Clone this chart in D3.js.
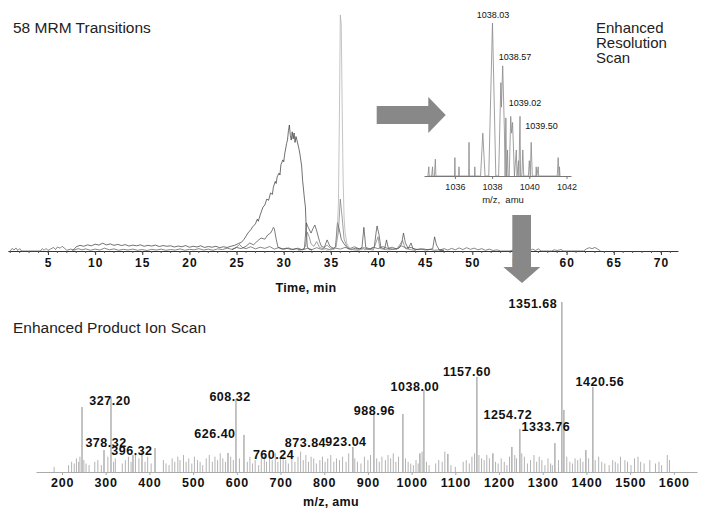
<!DOCTYPE html>
<html>
<head>
<meta charset="utf-8">
<script src="https://cdn.jsdelivr.net/npm/d3@7"></script>
<style>
  body { margin: 0; background: #fff; }
  svg { display: block; font-family: "Liberation Sans", Arial, Helvetica, sans-serif; }
</style>
</head>
<body>
<svg id="chart" width="720" height="516"></svg>
<script>
// ---------- data: MRM chromatogram (time min, relative intensity) ----------
const timeTicks = [5, 10, 15, 20, 25, 30, 35, 40, 45, 50, 55, 60, 65, 70];

// broad trace (starts as a wavy baseline, big hump around 31 min)
const chromBroad = [[7.6,0],[8.0,1.8],[8.4,2.4],[8.8,2.0],[9.2,2.6],[9.6,2.2],[10.0,2.9],[10.4,2.5],[10.8,3.3],[11.2,2.6],[11.6,3.0],[12.0,2.4],[12.4,2.8],[12.8,2.3],[13.2,2.7],[13.6,2.1],[14.0,2.5],[14.4,2.2],[14.8,2.6],[15.2,2.0],[15.6,2.4],[16.0,2.1],[16.4,2.5],[16.8,1.9],[17.2,2.3],[17.6,2.0],[18.0,2.2],[18.4,1.7],[18.8,2.1],[19.2,1.8],[19.6,2.3],[20.0,1.6],[20.4,2.0],[20.8,1.7],[21.2,2.2],[21.6,1.5],[22.0,1.9],[22.4,1.6],[22.8,2.0],[23.2,1.4],[23.6,1.8],[24.0,1.5],[24.4,2.0],[24.8,2.4],[25.2,3.2],[25.5,3.6],[25.8,5.0],[26.2,7.6],[26.5,9.0],[26.7,10.2],[27.0,11.5],[27.2,13.5],[27.3,12.6],[27.5,15.2],[27.8,18.6],[28.0,19.5],[28.2,22.0],[28.4,21.5],[28.6,24.6],[28.8,24.0],[28.9,27.0],[29.1,29.5],[29.2,28.6],[29.3,31.4],[29.5,33.0],[29.6,32.2],[29.7,36.5],[29.9,38.6],[30.0,37.8],[30.1,41.0],[30.3,45.5],[30.4,47.0],[30.5,51.0],[30.6,53.4],[30.7,49.0],[30.8,47.0],[30.9,50.5],[31.0,47.5],[31.1,50.0],[31.2,46.0],[31.3,48.5],[31.4,47.0],[31.6,43.5],[31.7,41.5],[31.9,36.0],[32.0,30.0],[32.2,22.0],[32.3,18.6],[32.4,8.0],[32.5,1.7],[32.7,0.8],[33.0,0.3]];

// trace with many small peaks 29-46 min
const chromPeaks = [[24.5,0.5],[25.0,1.5],[25.5,1.0],[26.0,2.0],[26.4,3.4],[26.8,2.6],[27.2,4.2],[27.6,5.5],[28.0,5.0],[28.3,6.8],[28.6,7.6],[28.8,9.0],[28.9,10.0],[29.0,9.5],[29.2,5.0],[29.4,1.5],[29.8,0.8],[30.3,1.2],[30.8,0.6],[31.3,1.0],[31.8,0.5],[32.2,1.0],[32.4,11.9],[32.6,10.0],[32.9,7.6],[33.1,9.5],[33.3,11.0],[33.5,8.5],[33.8,4.0],[34.0,2.0],[34.3,1.5],[34.6,4.7],[34.9,2.0],[35.3,1.0],[35.5,2.0],[35.7,12.0],[35.9,9.0],[36.1,5.0],[36.4,3.0],[36.8,1.0],[37.2,0.6],[37.6,1.2],[38.0,0.8],[38.3,1.5],[38.5,10.0],[38.7,1.5],[39.2,0.8],[39.6,1.5],[39.8,8.0],[39.9,10.6],[40.1,7.0],[40.3,1.5],[40.7,0.8],[40.9,4.7],[41.1,1.0],[41.6,0.8],[42.2,1.2],[42.5,3.0],[42.7,7.6],[42.9,3.5],[43.2,1.0],[43.5,3.4],[43.7,1.0],[44.2,0.6],[44.8,0.9],[45.3,0.5],[45.8,1.0],[46.0,6.0],[46.2,2.5],[46.5,0.5],[47.0,0.3]];

// tall narrow peak at 36 min
const chromTall = [[34.5,0.3],[35.0,0.6],[35.4,0.8],[35.6,2.0],[35.8,20.0],[35.9,55.0],[36.0,100],[36.1,96.0],[36.2,60.0],[36.3,30.0],[36.4,14.0],[36.5,8.0],[36.7,3.0],[37.0,1.2],[37.5,0.5],[38.0,0.3]];

// medium trace, 36 min peak
const chromMid = [[31.5,0.3],[32.0,0.6],[32.3,2.0],[32.5,8.0],[32.7,6.0],[32.9,3.0],[33.2,2.0],[33.5,4.0],[33.8,1.5],[34.2,1.0],[34.6,2.5],[35.0,1.0],[35.5,1.5],[35.8,8.0],[36.0,22.0],[36.2,14.0],[36.4,5.0],[36.7,2.0],[37.0,1.0],[37.5,0.5],[38.0,0.4],[38.5,1.0],[38.6,0.5],[39.0,0.8],[39.5,0.4],[40.0,6.0],[40.2,1.0],[41.0,0.5],[42.0,0.8],[42.6,4.5],[42.9,1.0],[43.6,0.5],[44.0,0.2]];

// baseline noise
const chromNoise = [[1.0,0],[1.2,1.1],[1.4,0.4],[1.6,1.3],[1.8,0.2],[2.0,1.0],[2.2,0],[2.6,0],[4.2,0],[4.4,1.0],[4.6,0.3],[4.8,1.1],[5.0,0.2],[5.3,0.9],[5.6,1.5],[5.8,0.6],[6.0,1.7],[6.3,1.2],[6.5,2.0],[6.8,1.0],[7.0,0.3],[7.4,0.8],[7.8,0.4],[8.2,1.0],[8.6,0.5],[9.0,0.9],[9.5,0.3],[10.0,0.8],[10.5,0.4],[11.0,1.2],[11.5,0.5],[12.0,0.9],[12.5,0.3],[13.0,0.7],[13.5,0.4],[14.0,0.8],[14.5,0.3],[15.0,0.6],[15.5,0.2],[16.0,0.7],[16.5,0.4],[17.0,0.8],[17.5,0.3],[18.0,0.6],[18.5,0.4],[19.0,0.9],[19.5,0.3],[20.0,0.7],[20.5,0.5],[21.0,1.0],[21.5,0.4],[22.0,0.8],[22.5,0.3],[23.0,0.9],[23.5,0.6],[24.0,1.2],[24.5,0.7],[25.0,1.6],[25.3,2.8],[25.6,1.5],[26.0,1.0],[26.5,1.8],[27.0,0.9],[27.5,1.6],[28.0,1.1],[28.5,1.9],[29.0,0.8],[29.5,1.5],[30.0,0.7],[30.5,1.3],[31.0,0.6],[31.5,1.2],[32.0,0.5],[32.5,1.1],[33.0,0.6],[33.5,1.4],[34.0,0.7],[34.5,1.0],[35.0,0.5],[35.5,1.2],[36.0,0.8],[36.5,1.5],[37.0,1.0],[37.5,1.8],[38.0,0.9],[38.5,1.4],[39.0,0.7],[39.5,1.6],[40.0,1.0],[40.5,1.9],[41.0,1.1],[41.5,1.6],[42.0,0.8],[42.5,2.2],[43.0,1.2],[43.5,1.5],[44.0,0.6],[44.5,0.9],[45.0,0.4],[45.5,0.7],[46.0,0.3],[46.5,0.5],[47.0,0]];

const chromLate = [[46.5,0.3],[47.0,1.0],[47.4,0.4],[47.8,1.1],[48.2,0.5],[48.6,1.3],[49.0,0.6],[49.4,1.4],[49.8,0.7],[50.2,1.2],[50.6,0.5],[51.0,1.0],[51.4,0.3],[51.8,0.8],[52.2,0.2],[52.6,0.5],[53.0,0],[54.0,0],[54.4,0.6],[54.8,0],[56.0,0],[56.4,0.8],[56.7,0.2],[57.0,0.9],[57.3,0],[58.4,0],[58.7,0.5],[59.0,0.2],[59.4,0.6],[59.7,0],[61.8,0],[62.1,0.9],[62.4,1.4],[62.7,1.0],[63.0,1.5],[63.3,0.8],[63.6,0]];

// ---------- data: enhanced resolution inset (m/z, relative intensity) ----------
const erTicks = [1036, 1038, 1040, 1042];
const erProfile = [[1034.55,0],[1034.6,6],[1034.62,0],[1034.75,0],[1034.8,6],[1034.82,0],[1034.9,0],[1034.95,11],[1034.98,0],[1035.98,0],[1036.0,12],[1036.02,0],[1036.2,0],[1036.22,6],[1036.24,0],[1036.74,0],[1036.76,22],[1036.78,0],[1037.05,0],[1037.07,6],[1037.09,0],[1037.38,0],[1037.5,28],[1037.62,0],[1037.82,0],[1038.02,100],[1038.2,0],[1038.35,0],[1038.47,61],[1038.5,45],[1038.57,72],[1038.66,30],[1038.7,0],[1038.74,38],[1038.78,0],[1038.83,17],[1038.86,0],[1038.92,0],[1039.0,39],[1039.05,28],[1039.1,35],[1039.2,0],[1039.3,17],[1039.34,0],[1039.42,10],[1039.44,0],[1039.5,39],[1039.53,0],[1039.6,0],[1039.65,17],[1039.7,0],[1039.95,0],[1040.0,10],[1040.05,0],[1040.1,22],[1040.16,0],[1040.35,0],[1040.37,6],[1040.4,0],[1040.48,6],[1040.5,0],[1041.5,0],[1041.55,12],[1041.6,0],[1041.62,6],[1041.65,0]];
const erLabels = [["1038.03",1038.05,105.2],["1038.57",1039.23,77.8],["1039.02",1039.77,47.7],["1039.50",1040.65,32.7]];

// ---------- data: enhanced product ion scan (m/z, relative intensity) ----------
const mzTicks = [200, 300, 400, 500, 600, 700, 800, 900, 1000, 1100, 1200, 1300, 1400, 1500, 1600];
const epiMajor = [[245.8,38.2],[312.1,44.1],[296.1,12.9],[362.4,10],[383,12.9],[412.8,14.1],[579.8,11.2],[598.1,42.9],[616.4,21.8],[865.7,14.7],[913.8,34.7],[980.1,34.1],[1028.2,48.2],[1019,11],[1083,10.6],[1149.4,55.9],[1186,11],[1229.5,14.7],[1247.8,25.3],[1327.9,17],[1343.9,100],[1348.5,36.5],[1398.8,12.9],[1414.8,50]];
const epiMinor = [[182,3],[215,4],[222,6],[228,5],[233,8],[238,6],[241,9],[250,7],[255,5],[262,4],[275,6],[282,7],[290,4],[305,9],[318,6],[322,8],[338,5],[345,7],[352,9],[358,6],[368,11],[376,8],[390,6],[396,9],[404,5],[432,7],[438,5],[445,4],[452,8],[458,6],[465,9],[470,7],[478,10],[484,6],[490,8],[497,5],[503,9],[510,7],[516,6],[522,4],[530,8],[537,10],[544,6],[550,9],[556,7],[562,11],[568,8],[574,6],[586,9],[592,7],[606,8],[624,6],[630,9],[636,5],[642,7],[650,4],[656,8],[663,10],[668,6],[675,9],[681,7],[688,11],[694,6],[700,8],[706,10],[712,7],[718,5],[726,8],[733,6],[740,9],[746,12],[752,7],[758,10],[764,6],[770,9],[776,8],[782,5],[790,7],[796,9],[802,6],[808,8],[815,10],[822,6],[828,8],[835,7],[842,9],[850,6],[856,11],[870,8],[876,6],[884,5],[892,9],[900,7],[906,10],[920,8],[926,6],[932,9],[940,7],[946,10],[952,8],[958,11],[964,6],[970,9],[986,8],[992,6],[998,5],[1004,4],[1010,7],[1015,5],[1024,12],[1034,6],[1040,4],[1055,5],[1062,7],[1070,6],[1076,12],[1090,4],[1100,3],[1118,6],[1125,7],[1132,5],[1138,9],[1144,11],[1154,10],[1160,8],[1166,7],[1172,10],[1178,8],[1192,6],[1198,5],[1205,8],[1212,6],[1218,4],[1224,9],[1236,10],[1240,8],[1252,11],[1258,9],[1265,5],[1272,7],[1280,10],[1286,6],[1292,9],[1298,7],[1305,4],[1312,8],[1318,5],[1322,4],[1336,7],[1355,9],[1362,6],[1368,5],[1374,8],[1380,7],[1386,8],[1392,6],[1405,8],[1420,7],[1428,9],[1435,6],[1442,5],[1452,4],[1460,7],[1466,6],[1472,5],[1478,9],[1488,7],[1494,6],[1502,4],[1510,8],[1518,9],[1524,6],[1532,5],[1545,7],[1558,5],[1566,6],[1572,4],[1585,10],[1590,7]];
const epiLabels = [["327.20",309.8,41.8],["378.32",300.7,17.1],["396.32",360.1,12.4],["608.32",584.4,44.1],["626.40",550,22.4],["760.24",684,10],["873.84",757,17.1],["923.04",849.7,17.6],["988.96",914.9,35.9],["1038.00",1007.6,50],["1157.60",1126.5,58.8],["1254.72",1220.4,33.5],["1333.76",1307.3,26.5],["1351.68",1277.5,98.8],["1420.56",1430.8,52.9]];

const FONT = '"Liberation Sans", Arial, Helvetica, sans-serif';
const svg = d3.select("#chart");
svg.append("rect").attr("width", 720).attr("height", 516).attr("fill", "#fff");

// ================= top chromatogram =================
const xT = d3.scaleLinear().domain([0.75, 71.8]).range([7.9, 677.9]);
const yT = d3.scaleLinear().domain([0, 100]).range([251, 15]);

const gTop = svg.append("g").attr("transform", "translate(0,251)");
gTop.call(d3.axisBottom(xT).tickValues(timeTicks).tickFormat(d3.format("d")).tickSize(4).tickSizeOuter(0));
gTop.attr("font-family", FONT);
gTop.select(".domain").attr("stroke", "#333");
gTop.selectAll(".tick line").attr("stroke", "#333");
gTop.selectAll(".tick text")
  .attr("y", 16).attr("dy", 0)
  .attr("font-size", 12).attr("font-weight", "bold")
  .attr("letter-spacing", 1).attr("fill", "#111");
gTop.selectAll(".minor").data(d3.range(1, 72)).join("line")
  .attr("class", "minor")
  .attr("x1", d => xT(d)).attr("x2", d => xT(d))
  .attr("y1", 0).attr("y2", 2).attr("stroke", "#555");

const lineT = d3.line().x(d => xT(d[0])).y(d => yT(d[1]));
const traceList = [chromNoise, chromLate, chromBroad, chromPeaks, chromMid, chromTall];
const traceColors = ["#555", "#555", "#333", "#444", "#777", "#aaa"];
svg.append("g").selectAll("path").data(traceList).join("path")
  .attr("d", lineT)
  .attr("fill", "none")
  .attr("stroke", (d, i) => traceColors[i])
  .attr("stroke-width", 0.7);

svg.append("text").attr("x", 306).attr("y", 292)
  .attr("text-anchor", "middle").attr("font-size", 12.5).attr("font-weight", "bold")
  .attr("letter-spacing", 0.3).attr("fill", "#111").text("Time, min");

svg.append("text").attr("x", 13).attr("y", 33)
  .attr("font-size", 15.5).attr("fill", "#222").text("58 MRM Transitions");

// ================= enhanced resolution inset =================
const xE = d3.scaleLinear().domain([1034.34, 1042.24]).range([424, 571]);
const yE = d3.scaleLinear().domain([0, 100]).range([176, 23]);

svg.append("path").datum(erProfile)
  .attr("d", d3.line().x(d => xE(d[0])).y(d => yE(d[1])))
  .attr("fill", "none").attr("stroke", "#888").attr("stroke-width", 0.8);

const gE = svg.append("g").attr("transform", "translate(0,176)");
gE.call(d3.axisBottom(xE).tickValues(erTicks).tickFormat(d3.format("d")).tickSize(3).tickSizeOuter(0));
gE.attr("font-family", FONT);
gE.select(".domain").attr("stroke", "#777");
gE.selectAll(".tick line").attr("stroke", "#777");
gE.selectAll(".tick text").attr("y", 13.5).attr("dy", 0)
  .attr("font-size", 9).attr("fill", "#222");

svg.append("text").attr("x", 503).attr("y", 203).attr("text-anchor", "middle")
  .attr("font-size", 9.5).attr("fill", "#222").attr("xml:space", "preserve").text("m/z,  amu");

svg.append("g").selectAll("text").data(erLabels).join("text")
  .attr("x", d => xE(d[1])).attr("y", d => yE(d[2]))
  .attr("dy", "0.35em").attr("text-anchor", "middle")
  .attr("font-size", 9).attr("fill", "#111").text(d => d[0]);

svg.append("g").attr("font-size", 15).attr("fill", "#222")
  .selectAll("text").data(["Enhanced", "Resolution", "Scan"]).join("text")
  .attr("x", 596).attr("y", (d, i) => 33 + i * 15).text(d => d);

// ================= arrows (in chromatogram coordinates) =================
const arrowRight = [[39.86,61.4],[45.33,61.4],[45.33,65.3],[47.18,57.6],[45.33,50.0],[45.33,53.8],[39.86,53.8]];
const arrowDown = [[54.24,15.25],[56.22,15.25],[56.22,-6.78],[57.21,-6.78],[55.27,-13.56],[53.29,-6.78],[54.24,-6.78]];
svg.append("g").selectAll("path").data([arrowRight, arrowDown]).join("path")
  .attr("d", d => d3.line().x(p => xT(p[0])).y(p => yT(p[1]))(d) + "Z")
  .attr("fill", "#888");

// ================= enhanced product ion scan =================
const xB = d3.scaleLinear().domain([140.5, 1653]).range([36, 697]);
const yB = d3.scaleLinear().domain([0, 100]).range([472, 302]);

const gB = svg.append("g").attr("transform", "translate(0,472)");
gB.call(d3.axisBottom(xB).tickValues(mzTicks).tickFormat(d3.format("d")).tickSize(3).tickSizeOuter(0));
gB.attr("font-family", FONT);
gB.select(".domain").attr("stroke", "#aaa");
gB.selectAll(".tick line").attr("stroke", "#aaa");
gB.selectAll(".tick text").attr("y", 15).attr("dy", 0)
  .attr("font-size", 12.5).attr("font-weight", "bold")
  .attr("letter-spacing", 0.8).attr("fill", "#111");

svg.append("g").selectAll("line").data(epiMinor).join("line")
  .attr("x1", d => xB(d[0])).attr("x2", d => xB(d[0]))
  .attr("y1", yB(0)).attr("y2", d => yB(d[1]))
  .attr("stroke", "#aaa").attr("stroke-width", 0.9);

svg.append("g").selectAll("line").data(epiMajor).join("line")
  .attr("x1", d => xB(d[0])).attr("x2", d => xB(d[0]))
  .attr("y1", yB(0)).attr("y2", d => yB(d[1]))
  .attr("stroke", "#888").attr("stroke-width", 1);

svg.append("g").selectAll("text").data(epiLabels).join("text")
  .attr("x", d => xB(d[1])).attr("y", d => yB(d[2]))
  .attr("dy", "0.35em").attr("text-anchor", "middle")
  .attr("font-size", 12.5).attr("font-weight", "bold")
  .attr("letter-spacing", 0.5).attr("fill", "#111").text(d => d[0]);

svg.append("text").attr("x", 331).attr("y", 506).attr("text-anchor", "middle")
  .attr("font-size", 12.5).attr("font-weight", "bold").attr("letter-spacing", 0.3)
  .attr("fill", "#111").text("m/z, amu");

svg.append("text").attr("x", 13).attr("y", 333)
  .attr("font-size", 15.5).attr("fill", "#222").text("Enhanced Product Ion Scan");
</script>
</body>
</html>
